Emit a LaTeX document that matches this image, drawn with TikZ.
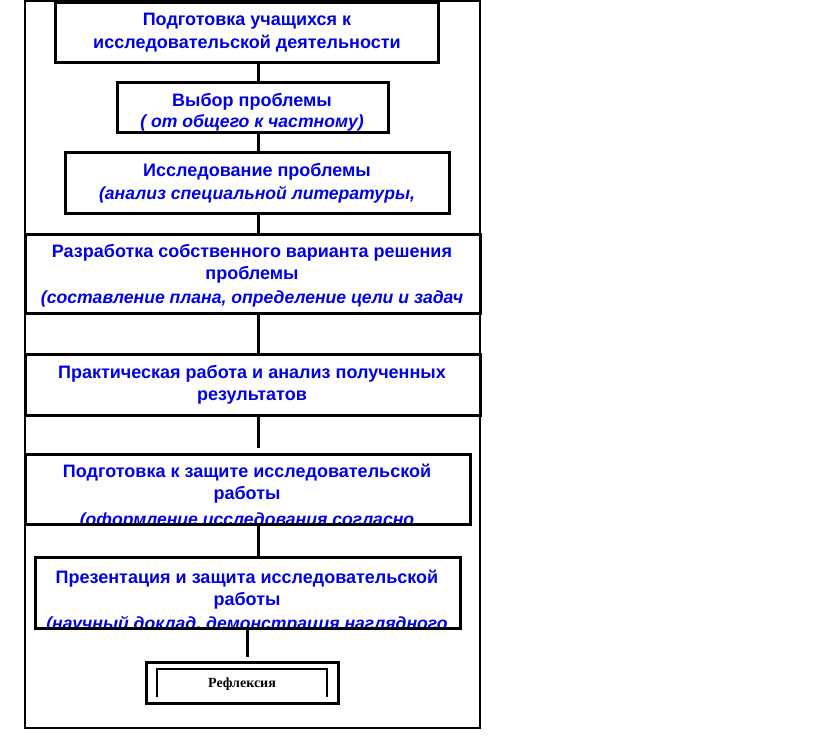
\documentclass[tikz,border=0pt]{standalone}
\usepackage{fontspec}
\setmainfont{Liberation Sans}
\newfontfamily\serifb{Liberation Serif}
\definecolor{txtblue}{RGB}{0,0,230}
\begin{document}
\begin{tikzpicture}[x=1pt,y=-1pt,
  boxst/.style={draw=black,line width=3pt,rectangle,inner sep=0pt,outer sep=0pt,anchor=north west},
  conn/.style={draw=black,line width=3pt},
  tl/.style={text=txtblue,font=\fontsize{18}{20}\selectfont\bfseries,inner sep=0pt,anchor=base},
  ti/.style={text=txtblue,font=\fontsize{17.6}{20}\selectfont\bfseries\itshape,inner sep=0pt,anchor=base}]
\useasboundingbox (0,0) rectangle (816,737);
\fill[white] (0,0) rectangle (816,737);
% outer frame
\draw[line width=1.8pt] (25,1) rectangle (480,728);
\coordinate (cx) at (258,0);
\coordinate (cy) at (247,0);
% box 1
\node[boxst,minimum width=383pt,minimum height=60pt] (b1) at (55,2) {};
\node[tl] (t1a) at (247,25) {Подготовка учащихся к};
\node[tl] (t1b) at (247,48) {исследовательской деятельности};
% box 2
\node[boxst,minimum width=271pt,minimum height=50pt] (b2) at (117,82) {};
\node[tl] (t2a) at (252,106) {Выбор проблемы};
\node[ti] (t2b) at (252,127) {( от общего к частному)};
% box 3
\node[boxst,minimum width=384pt,minimum height=61pt] (b3) at (65,152) {};
\node[tl] (t3a) at (257,176) {Исследование проблемы};
\node[ti] (t3b) at (257,199) {(анализ специальной литературы,};
% box 4
\node[boxst,minimum width=455pt,minimum height=79pt] (b4) at (25,234) {};
\node[tl] (t4a) at (252,257) {Разработка собственного варианта решения};
\node[tl] (t4b) at (252,279) {проблемы};
\node[ti] (t4c) at (252,303) {(составление плана, определение цели и задач};
% box 5
\node[boxst,minimum width=455pt,minimum height=61pt] (b5) at (25,354) {};
\node[tl] (t5a) at (252,378) {Практическая работа и анализ полученных};
\node[tl] (t5b) at (252,400) {результатов};
% box 6
\node[boxst,minimum width=445pt,minimum height=70pt] (b6) at (25,454) {};
\node[tl] (t6a) at (247,477) {Подготовка к защите исследовательской};
\node[tl] (t6b) at (247,499) {работы};
\begin{scope}
\clip (25,503) rectangle (470,522);
\node[ti] (t6c) at (247,525) {(оформление исследования согласно};
\end{scope}
% box 7
\node[boxst,minimum width=425pt,minimum height=71pt] (b7) at (35,557) {};
\node[tl] (t7a) at (247,583) {Презентация и защита исследовательской};
\node[tl] (t7b) at (247,605) {работы};
\begin{scope}
\clip (35,609) rectangle (460,626);
\node[ti] (t7c) at (247,629) {(научный доклад, демонстрация наглядного};
\end{scope}
% box 8
\node[boxst,minimum width=192pt,minimum height=41pt] (b8) at (146,662) {};
\coordinate (i1) at (157,697);
\coordinate (i2) at (157,669);
\coordinate (i3) at (327,669);
\coordinate (i4) at (327,697);
\draw[line width=2.6pt] (i1) -- (i2) -- (i3) -- (i4);
\node[font=\serifb\fontsize{14}{16}\selectfont\bfseries,inner sep=0pt] (t8) at (242,684) {Рефлексия};
% connectors
\draw[conn] (b1.south -| cx) -- (b2.north -| cx);
\draw[conn] (b2.south -| cx) -- (b3.north -| cx);
\draw[conn] (b3.south -| cx) -- (b4.north -| cx);
\draw[conn] (b4.south -| cx) -- (b5.north -| cx);
\coordinate (e5) at (258,448);
\draw[conn] (b5.south -| cx) -- (e5);
\draw[conn] (b6.south -| cx) -- (b7.north -| cx);
\coordinate (e7) at (247,657);
\draw[conn] (b7.south -| cy) -- (e7);
\end{tikzpicture}
\end{document}
